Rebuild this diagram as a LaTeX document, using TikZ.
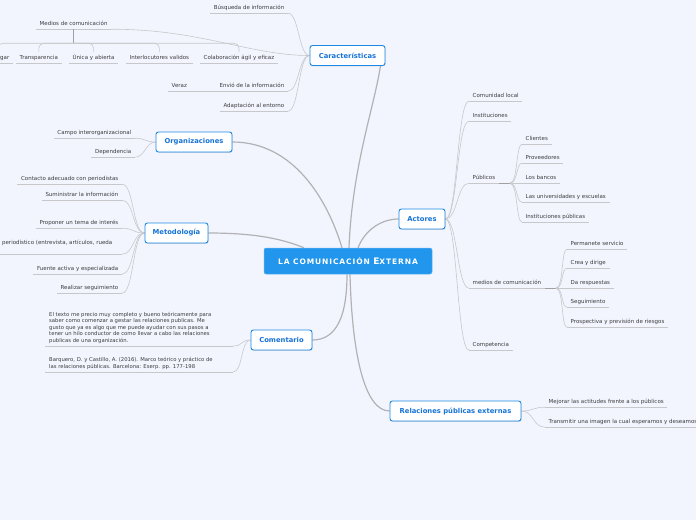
\documentclass[tikz,border=0pt]{standalone}
\usepackage{fontspec}
\setmainfont{DejaVu Sans}
\usetikzlibrary{shadows,calc}
\pgfdeclarelayer{background}
\pgfsetlayers{background,main}
\definecolor{bg}{RGB}{242,245,253}
\definecolor{boxblue}{RGB}{30,136,229}
\definecolor{txtblue}{RGB}{22,115,214}
\definecolor{cblue}{RGB}{33,150,236}
\definecolor{lgray}{RGB}{200,200,204}
\definecolor{mgray}{RGB}{178,178,182}
\definecolor{sgray}{RGB}{160,160,164}
\definecolor{tgray}{RGB}{60,60,64}
\begin{document}
\begin{tikzpicture}[x=1pt,y=-1pt,
 leaf/.style={font=\fontsize{5.5}{6.5}\selectfont, text=tgray, inner xsep=3.5pt, inner ysep=2.8pt, text height=4pt, text depth=1.2pt},
 lw/.style={leaf, anchor=base west},
 le/.style={leaf, anchor=base east},
 para/.style={font=\fontsize{5.3}{6.5}\selectfont, text=tgray, align=left, inner xsep=4pt, inner ysep=2.5pt, anchor=south west},
 topic/.style={draw=boxblue, line width=0.9pt, fill=white, rounded corners=2.5pt, text=txtblue, font=\bfseries\fontsize{6.8}{8}\selectfont, minimum height=20pt, inner sep=0pt, drop shadow={shadow xshift=0.6pt, shadow yshift=-0.9pt, opacity=0.25}},
 con/.style={draw=lgray, line width=0.6pt},
 main/.style={draw=mgray, line width=1.2pt},
 ul/.style={draw=lgray, line width=0.6pt},
 stub/.style={draw=sgray, line width=1.4pt}]
\useasboundingbox (0,0) rectangle (696,520);

% central and topics
\node[fill=cblue, draw=cblue!70!white, line width=0.5pt, rounded corners=2pt, minimum width=168pt, minimum height=26pt, text=white, font=\bfseries] (central) at (348,261)
 {\fontsize{7.5}{9}\selectfont\addfontfeatures{LetterSpace=12}LA COMUNICACIÓN {\fontsize{9}{9}\selectfont E}XTERNA};
\node[topic, minimum width=75pt] (car) at (347.5,55.5) {Características};
\node[topic, minimum width=76pt] (org) at (194,142) {Organizaciones};
\node[topic, minimum width=63pt] (met) at (176.5,233) {Metodología};
\node[topic, minimum width=61pt] (com) at (281.5,340) {Comentario};
\node[topic, minimum width=46pt] (act) at (422,219) {Actores};
\node[topic, minimum width=131pt] (rpe) at (455.5,411) {Relaciones públicas externas};

% Caracteristicas leaves
\node[le] (busq) at (288,9) {Búsqueda de información};
\node[lw] (medios) at (36,25) {Medios de comunicación};
\node[le] (envio) at (288,87) {Envió de la información};
\node[lw] (veraz) at (168,87) {Veraz};
\node[le] (adapt) at (288,107) {Adaptación al entorno};
\node[le] (dial) at (13,59) {Dialogar};
\node[lw] (transp) at (16,59) {Transparencia};
\node[lw] (unica) at (69,59) {Única y abierta};
\node[lw] (interl) at (126,59) {Interlocutores validos};
\node[lw] (colab) at (200,59) {Colaboración ágil y eficaz};

% Organizaciones
\node[le] (campo) at (135,134) {Campo interorganizacional};
\node[le] (dep) at (135,153) {Dependencia};

% Metodologia
\node[le] (contacto) at (122,180) {Contacto adecuado con periodistas};
\node[le] (sumin) at (122,196) {Suministrar la información};
\node[le] (proponer) at (122,224) {Proponer un tema de interés};
\node[le, text depth=7.2pt] (perio) at (122,244) {periodístico (entrevista, artículos, rueda\hspace*{6pt}};
\node[le] (fuente) at (122,270) {Fuente activa y especializada};
\node[le] (realizar) at (122,289) {Realizar seguimiento};

% Comentario
\node[para] (texto) at (45,346) {El texto me precio muy completo y bueno teóricamente para\\ saber como comenzar a gestar las relaciones publicas. Me\\ gusto que ya es algo que me puede ayudar con sus pasos a\\ tener un hilo conductor de como llevar a cabo las relaciones\\ publicas de una organización.};
\node[para] (barq) at (45,372) {Barquero, D. y Castillo, A. (2016). Marco teórico y práctico de\\ las relaciones públicas. Barcelona: Eserp. pp. 177-198};

% Actores
\node[lw] (comunidad) at (469,97) {Comunidad local};
\node[lw] (instit) at (469,117) {Instituciones};
\node[lw] (publicos) at (469,179) {Públicos};
\node[lw] (medioscom) at (469,284) {medios de comunicación};
\node[lw] (compet) at (469,346) {Competencia};
\node[lw] (clientes) at (522,140) {Clientes};
\node[lw] (proveedores) at (522,159) {Proveedores};
\node[lw] (bancos) at (522,179) {Los bancos};
\node[lw] (univ) at (522,198) {Las universidades y escuelas};
\node[lw] (instpub) at (522,218) {Instituciones públicas};
\node[lw] (permanente) at (567,245) {Permanete servicio};
\node[lw] (crea) at (567,264) {Crea y dirige};
\node[lw] (da) at (567,284) {Da respuestas};
\node[lw] (seg) at (567,303) {Seguimiento};
\node[lw] (prosp) at (567,323) {Prospectiva y previsión de riesgos};

% RPE
\node[lw] (mejorar) at (545,403) {Mejorar las actitudes frente a los públicos};
\node[lw] (transmitir) at (545,423) {Transmitir una imagen la cual esperamos y deseamos};

\begin{pgfonlayer}{background}
\fill[bg] (0,0) rectangle (696,520);
% main connectors
\draw[main] ($(central.north)+(1,0)$) .. controls +(3,-80) and +(-6,40) .. ($(car.south east)+(-5,0)$);
\draw[main] ($(central.north)+(10,0)$) .. controls +(8,-20) and +(-15,0) .. (act.west);
\draw[main] (org.east) .. controls +(60,0) and +(-15,-50) .. ($(central.north)+(-6,0)$);
\draw[main] (met.east) .. controls +(50,0) and +(-20,-8) .. ($(central.north)+(-44,0)$);
\draw[main] ($(central.south)+(-1,0)$) .. controls +(0,40) and +(25,0) .. (com.east);
\draw[main] ($(central.south)+(2,0)$) .. controls +(2,80) and +(-25,0) .. (rpe.west);
% underlines
\foreach \n in {busq,medios,envio,veraz,adapt,dial,transp,unica,interl,colab,campo,dep,contacto,sumin,proponer,perio,fuente,realizar,comunidad,instit,publicos,medioscom,compet,clientes,proveedores,bancos,univ,instpub,permanente,crea,da,seg,prosp,mejorar,transmitir}
  \draw[ul] (\n.south west) -- (\n.south east);
\draw[ul] (texto.south west) -- ++(188,0) coordinate (textoE);
\draw[ul] (barq.south west) -- ++(188,0) coordinate (barqE);
% Caracteristicas
\foreach \n in {busq,envio,adapt}
  \draw[con] (car.west) .. controls +(-11,0) and +(11,0) .. (\n.south east);
\draw[con] (car.west) .. controls +(-60,0) and +(90,0) .. (medios.south east);
\draw[con] (veraz.south east) -- (envio.south west);
\draw[stub] (medios.south) -- ++(0,14) coordinate (mb);
\foreach \n in {dial,transp,unica,interl,colab}
  \draw[con, rounded corners=5pt] (mb) -| (\n.north);
% Organizaciones
\foreach \n in {campo,dep}
  \draw[con] (org.west) .. controls +(-10,0) and +(10,0) .. (\n.south east);
% Metodologia
\foreach \n in {contacto,sumin,proponer,perio,fuente,realizar}
  \draw[con] (met.west) .. controls +(-12,0) and +(12,0) .. (\n.south east);
% Comentario
\foreach \n in {textoE,barqE}
  \draw[con] (com.west) .. controls +(-10,0) and +(10,0) .. (\n);
% Actores
\foreach \n in {comunidad,instit,publicos,medioscom,compet}
  \draw[con] (act.east) .. controls +(12,0) and +(-12,0) .. (\n.south west);
\draw[stub] (publicos.south east) -- ++(11,0) coordinate (pb);
\foreach \n in {clientes,proveedores,bancos,univ,instpub}
  \draw[con] (pb) .. controls +(8,0) and +(-6,0) .. (\n.south west);
\draw[stub] (medioscom.south east) -- ++(11,0) coordinate (mcb);
\foreach \n in {permanente,crea,da,seg,prosp}
  \draw[con] (mcb) .. controls +(8,0) and +(-6,0) .. (\n.south west);
% RPE
\foreach \n in {mejorar,transmitir}
  \draw[con] (rpe.east) .. controls +(12,0) and +(-12,0) .. (\n.south west);
\end{pgfonlayer}
\end{tikzpicture}
\end{document}
